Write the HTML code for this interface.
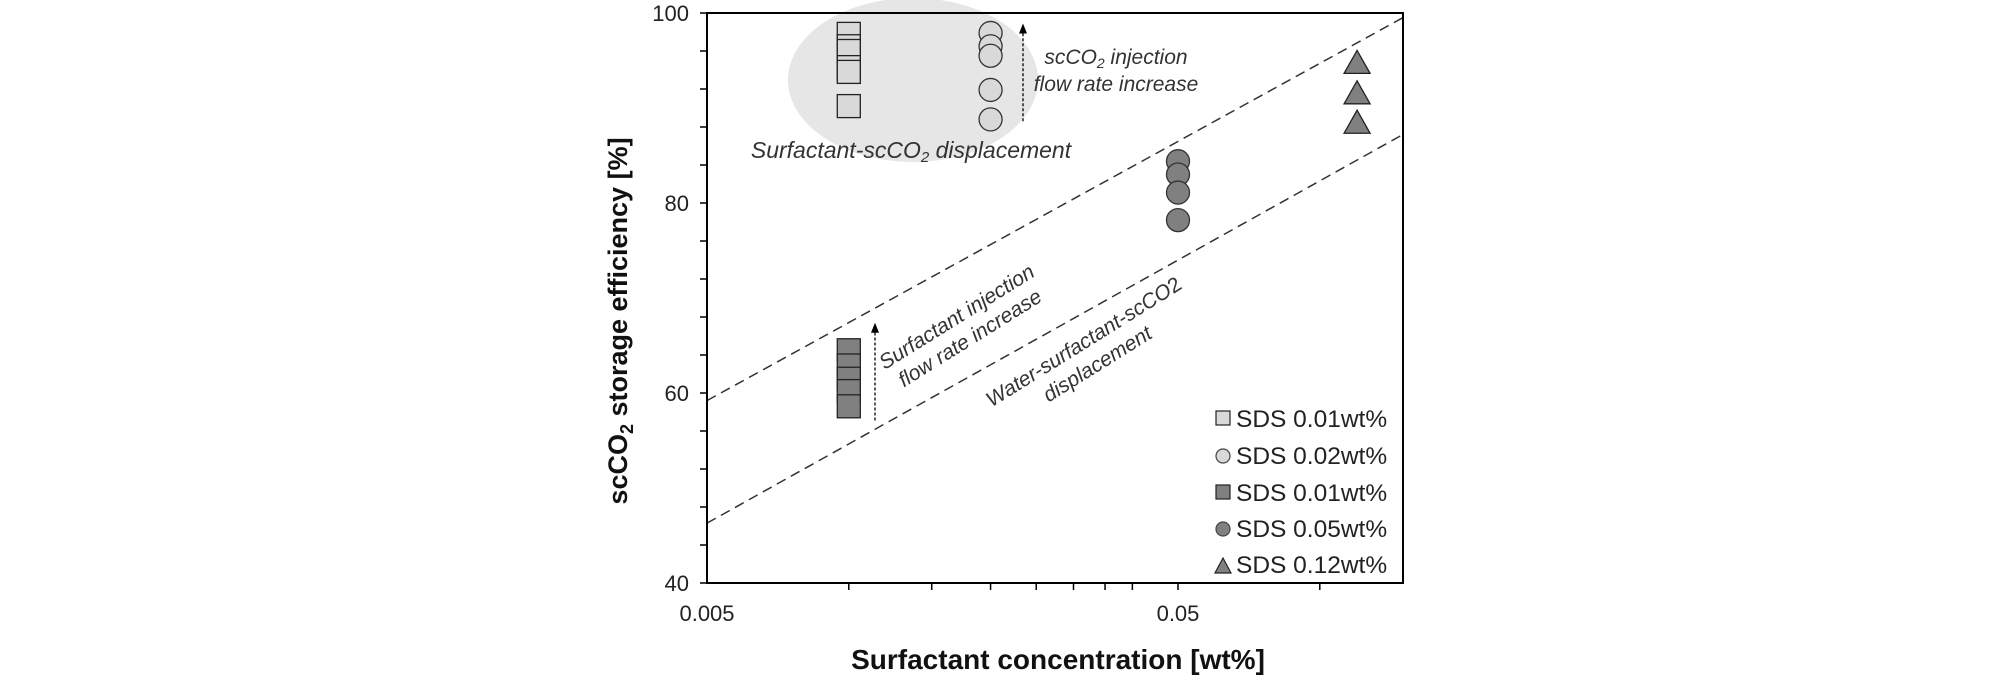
<!DOCTYPE html>
<html><head><meta charset="utf-8"><style>
html,body{margin:0;padding:0;background:#fff}
svg{display:block;font-family:"Liberation Sans",Arial,sans-serif}
</style></head><body>
<svg id="chart" width="2008" height="680" viewBox="0 0 2008 680">
<g id="bg"></g>
<g id="marks"></g>
<g id="axes"></g>
</svg>
<script>
const xLightSq = 0.01, yLightSq = [97.8, 96.5, 96.0, 94.3, 93.8, 90.2];
const xLightCirc = 0.02, yLightCirc = [97.9, 96.5, 95.5, 91.9, 88.8];
const xDarkSq = 0.01, yDarkSq = [64.5, 62.9, 61.5, 60.2, 58.6];
const xDarkCirc = 0.05, yDarkCirc = [84.4, 83.0, 81.1, 78.2];
const xTri = 0.12, yTri = [94.8, 91.6, 88.5];
const upperLine = [[0.005, 59.2], [0.15, 99.5]];
const lowerLine = [[0.005, 46.3], [0.15, 87.2]];
const yTickLabels = [100, 80, 60, 40];
const xTickLabels = ["0.005", "0.05"];
const xMinorTicks = [0.01, 0.015, 0.02, 0.025, 0.03, 0.035, 0.04, 0.05, 0.1];

const L=707,R=1403,T=13,B=583;
const X=v=>L+Math.log10(v/0.005)*471;
const Y=v=>T+(100-v)*9.5;
const NS="http://www.w3.org/2000/svg";
function mk(parent,tag,attrs,text){const e=document.createElementNS(NS,tag);for(const k in attrs)e.setAttribute(k,attrs[k]);if(text!==undefined)e.textContent=text;document.getElementById(parent).appendChild(e);return e;}

let el=mk('bg','ellipse',{cx:913,cy:80,rx:125,ry:82,fill:'#e6e6e6'});


[upperLine,lowerLine].forEach((ln,i)=>{
 const e=mk('bg','line',{x1:X(ln[0][0]),y1:Y(ln[0][1]),x2:X(ln[1][0]),y2:Y(ln[1][1]),stroke:'#333','stroke-width':1.5,'stroke-dasharray':'10,6'});
 
 
});
function arrow(x,y0,y1,name){
 const a=mk('bg','line',{x1:x,y1:Y(y0),x2:x,y2:Y(y1)+8,stroke:'#000','stroke-width':1.3,'stroke-dasharray':'3,2'});
 
 
 const h=mk('bg','polygon',{points:`${x-4},${Y(y1)+10} ${x+4},${Y(y1)+10} ${x},${Y(y1)}`,fill:'#000'});
 
 
}
arrow(1023,88.6,98.9,'scco2-flow-arrow');
arrow(875,57.1,67.4,'surfactant-flow-arrow');

function sq(x,y,fill,name){const s=23;const e=mk('marks','rect',{x:X(x)-s/2,y:Y(y)-s/2,width:s,height:s,fill:fill,stroke:'#222','stroke-width':1.3});
 
 }
function circ(x,y,fill,name){const e=mk('marks','circle',{cx:X(x),cy:Y(y),r:11.5,fill:fill,stroke:'#333','stroke-width':1.3});
 
 }
function tri(x,y,fill,name){const cx=X(x),cy=Y(y);const e=mk('marks','polygon',{points:`${cx-13},${cy+11} ${cx+13},${cy+11} ${cx},${cy-12}`,fill:fill,stroke:'#222','stroke-width':1.3});
 
 }
yLightSq.forEach(v=>sq(xLightSq,v,'#d9d9d9','light-square-point'));
yLightCirc.forEach(v=>circ(xLightCirc,v,'#d9d9d9','light-circle-point'));
yDarkSq.forEach(v=>sq(xDarkSq,v,'#808080','dark-square-point'));
yDarkCirc.forEach(v=>circ(xDarkCirc,v,'#808080','dark-circle-point'));
yTri.forEach(v=>tri(xTri,v,'#808080','triangle-point'));

el=mk('axes','path',{d:`M${L},${T} H${R} V${B} H${L} Z`,fill:'none',stroke:'#000','stroke-width':2});


for(let v=100;v>=40;v-=4){ if(Y(v)>B+0.5)break; mk('axes','line',{x1:L-7,y1:Y(v),x2:L,y2:Y(v),stroke:'#000','stroke-width':1.5}); }
yTickLabels.forEach((v,i)=>{const yy=i===3?B:Y(v);const e=mk('axes','text',{x:689,y:yy+8,'text-anchor':'end','font-size':22,fill:'#222'},String(v));
 
 });
xMinorTicks.forEach(v=>mk('axes','line',{x1:X(v),y1:B,x2:X(v),y2:B+7,stroke:'#000','stroke-width':1.5}));
[0.005,0.05].forEach((v,i)=>{const e=mk('axes','text',{x:X(v),y:621,'text-anchor':'middle','font-size':22,fill:'#222'},xTickLabels[i]);
 
 });
</script>
<div style="position:absolute;left:0;top:0;width:2008px;height:680px;pointer-events:none">
<svg width="2008" height="680" style="font-family:'Liberation Sans',Arial,sans-serif">
<text x="1058" y="669" text-anchor="middle" font-size="28" font-weight="bold" fill="#111">Surfactant concentration [wt%]</text>
<text transform="translate(627,321) rotate(-90)" text-anchor="middle" font-size="27" font-weight="bold" fill="#111">scCO<tspan font-size="18" dy="6">2</tspan><tspan dy="-6"> storage efficiency [%]</tspan></text>
<g font-style="italic" font-size="21" fill="#333">
<text x="1116" y="64" text-anchor="middle">scCO<tspan font-size="14" dy="4">2</tspan><tspan dy="-4"> injection</tspan></text>
<text x="1116" y="91" text-anchor="middle">flow rate increase</text>
<text x="911" y="158" text-anchor="middle" font-size="23">Surfactant-scCO<tspan font-size="15" dy="4">2</tspan><tspan dy="-4"> displacement</tspan></text>
<g transform="translate(963,327) rotate(-32)">
<text x="0" y="-5" text-anchor="middle">Surfactant injection</text>
<text x="0" y="20" text-anchor="middle">flow rate increase</text>
</g>
<g transform="translate(1090,352) rotate(-32)">
<text x="0" y="-5" text-anchor="middle">Water-surfactant-scCO<tspan font-style="normal">2</tspan></text>
<text x="0" y="21" text-anchor="middle">displacement</text>
</g>
</g>
<g font-size="24.5" fill="#222">
<rect x="1216" y="411" width="14" height="14" fill="#d9d9d9" stroke="#222" stroke-width="1.2"/>
<text x="1236" y="427">SDS 0.01wt%</text>
<circle cx="1223" cy="456" r="7" fill="#d9d9d9" stroke="#444" stroke-width="1.2"/>
<text x="1236" y="464">SDS 0.02wt%</text>
<rect x="1216" y="485" width="14" height="14" fill="#808080" stroke="#222" stroke-width="1.2"/>
<text x="1236" y="501">SDS 0.01wt%</text>
<circle cx="1223" cy="529" r="7" fill="#808080" stroke="#444" stroke-width="1.2"/>
<text x="1236" y="537">SDS 0.05wt%</text>
<polygon points="1215,573 1231,573 1223,558" fill="#808080" stroke="#222" stroke-width="1.2"/>
<text x="1236" y="573">SDS 0.12wt%</text>
</g>
</svg>
</div>
</body></html>
